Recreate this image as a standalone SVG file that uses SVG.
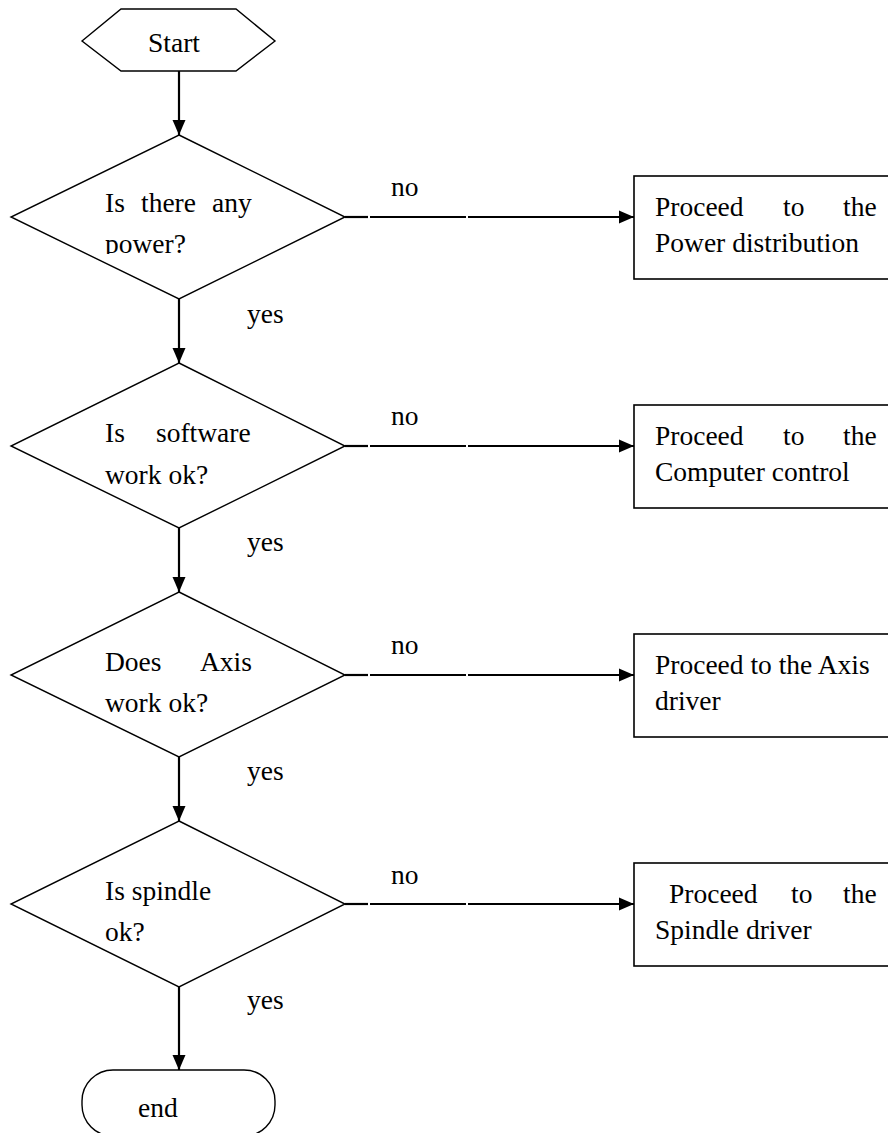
<svg xmlns="http://www.w3.org/2000/svg" width="888" height="1133" viewBox="0 0 888 1133">
<style>
  .shape { fill: #fff; stroke: #000; stroke-width: 1.4; }
  .box { fill: #fff; stroke: #000; stroke-width: 1.6; }
  .conn { fill: none; stroke: #000; stroke-width: 2.2; }
  text { font-family: "Liberation Serif", "Times New Roman", serif; font-size: 27.5px; fill: #000; }
</style>
<defs>
  <marker id="arrow" markerUnits="userSpaceOnUse" markerWidth="16" markerHeight="14" refX="15" refY="7" orient="auto">
    <path d="M0,0.5 L15,7 L0,13.5 Z" fill="#000"/>
  </marker>
  <clipPath id="clip1"><rect x="0" y="150" width="400" height="104"/></clipPath>
</defs>
<rect x="0" y="0" width="888" height="1133" fill="#fff"/>

<g id="connectors">
  <line class="conn" x1="179" y1="71" x2="179" y2="135" marker-end="url(#arrow)"/>
  <line class="conn" x1="179" y1="299" x2="179" y2="363" marker-end="url(#arrow)"/>
  <line class="conn" x1="179" y1="528" x2="179" y2="592" marker-end="url(#arrow)"/>
  <line class="conn" x1="179" y1="757" x2="179" y2="821" marker-end="url(#arrow)"/>
  <line class="conn" x1="179" y1="987" x2="179" y2="1070" marker-end="url(#arrow)"/>
  <g id="no1">
    <line class="conn" x1="345" y1="217" x2="368" y2="217"/>
    <line class="conn" x1="370" y1="217" x2="466" y2="217"/>
    <line class="conn" x1="468" y1="217" x2="634" y2="217" marker-end="url(#arrow)"/>
  </g>
  <g id="no2">
    <line class="conn" x1="345" y1="446" x2="368" y2="446"/>
    <line class="conn" x1="370" y1="446" x2="466" y2="446"/>
    <line class="conn" x1="468" y1="446" x2="634" y2="446" marker-end="url(#arrow)"/>
  </g>
  <g id="no3">
    <line class="conn" x1="345" y1="675" x2="368" y2="675"/>
    <line class="conn" x1="370" y1="675" x2="466" y2="675"/>
    <line class="conn" x1="468" y1="675" x2="634" y2="675" marker-end="url(#arrow)"/>
  </g>
  <g id="no4">
    <line class="conn" x1="345" y1="904" x2="368" y2="904"/>
    <line class="conn" x1="370" y1="904" x2="466" y2="904"/>
    <line class="conn" x1="468" y1="904" x2="634" y2="904" marker-end="url(#arrow)"/>
  </g>
  <text x="391" y="196">no</text>
  <text x="391" y="425">no</text>
  <text x="391" y="654">no</text>
  <text x="391" y="884">no</text>
  <text x="247" y="323">yes</text>
  <text x="247" y="551">yes</text>
  <text x="247" y="780">yes</text>
  <text x="247" y="1009">yes</text>
</g>

<g id="start">
  <polygon class="shape" points="82,41 121,9 236,9 275,41 236,71 121,71"/>
  <text x="148" y="52">Start</text>
</g>

<g id="decision1">
  <polygon class="shape" points="179,135 345,217 179,299 11,217"/>
  <g clip-path="url(#clip1)">
    <text x="105" y="212">Is</text>
    <text x="141" y="212">there</text>
    <text x="212" y="212">any</text>
    <text x="105" y="253">power?</text>
  </g>
</g>

<g id="decision2">
  <polygon class="shape" points="179,363 345,446 179,528 11,446"/>
  <text x="105" y="442">Is</text>
  <text x="156" y="442">software</text>
  <text x="105" y="484">work ok?</text>
</g>

<g id="decision3">
  <polygon class="shape" points="179,592 345,675 179,757 11,675"/>
  <text x="105" y="671">Does</text>
  <text x="200" y="671">Axis</text>
  <text x="105" y="712">work ok?</text>
</g>

<g id="decision4">
  <polygon class="shape" points="179,821 345,904 179,987 11,904"/>
  <text x="105" y="900">Is spindle</text>
  <text x="105" y="941">ok?</text>
</g>

<g id="box1">
  <rect class="box" x="634" y="176" width="270" height="103"/>
  <text x="655" y="216">Proceed</text>
  <text x="783" y="216">to</text>
  <text x="843" y="216">the</text>
  <text x="655" y="252">Power distribution</text>
</g>

<g id="box2">
  <rect class="box" x="634" y="405" width="270" height="103"/>
  <text x="655" y="445">Proceed</text>
  <text x="783" y="445">to</text>
  <text x="843" y="445">the</text>
  <text x="655" y="481">Computer control</text>
</g>

<g id="box3">
  <rect class="box" x="634" y="634" width="270" height="103"/>
  <text x="655" y="674">Proceed to the Axis</text>
  <text x="655" y="710">driver</text>
</g>

<g id="box4">
  <rect class="box" x="634" y="863" width="270" height="103"/>
  <text x="669" y="903">Proceed</text>
  <text x="791" y="903">to</text>
  <text x="843" y="903">the</text>
  <text x="655" y="939">Spindle driver</text>
</g>

<g id="end">
  <rect class="shape" x="82" y="1070" width="193" height="66" rx="31" ry="31"/>
  <text x="138" y="1117">end</text>
</g>
</svg>
